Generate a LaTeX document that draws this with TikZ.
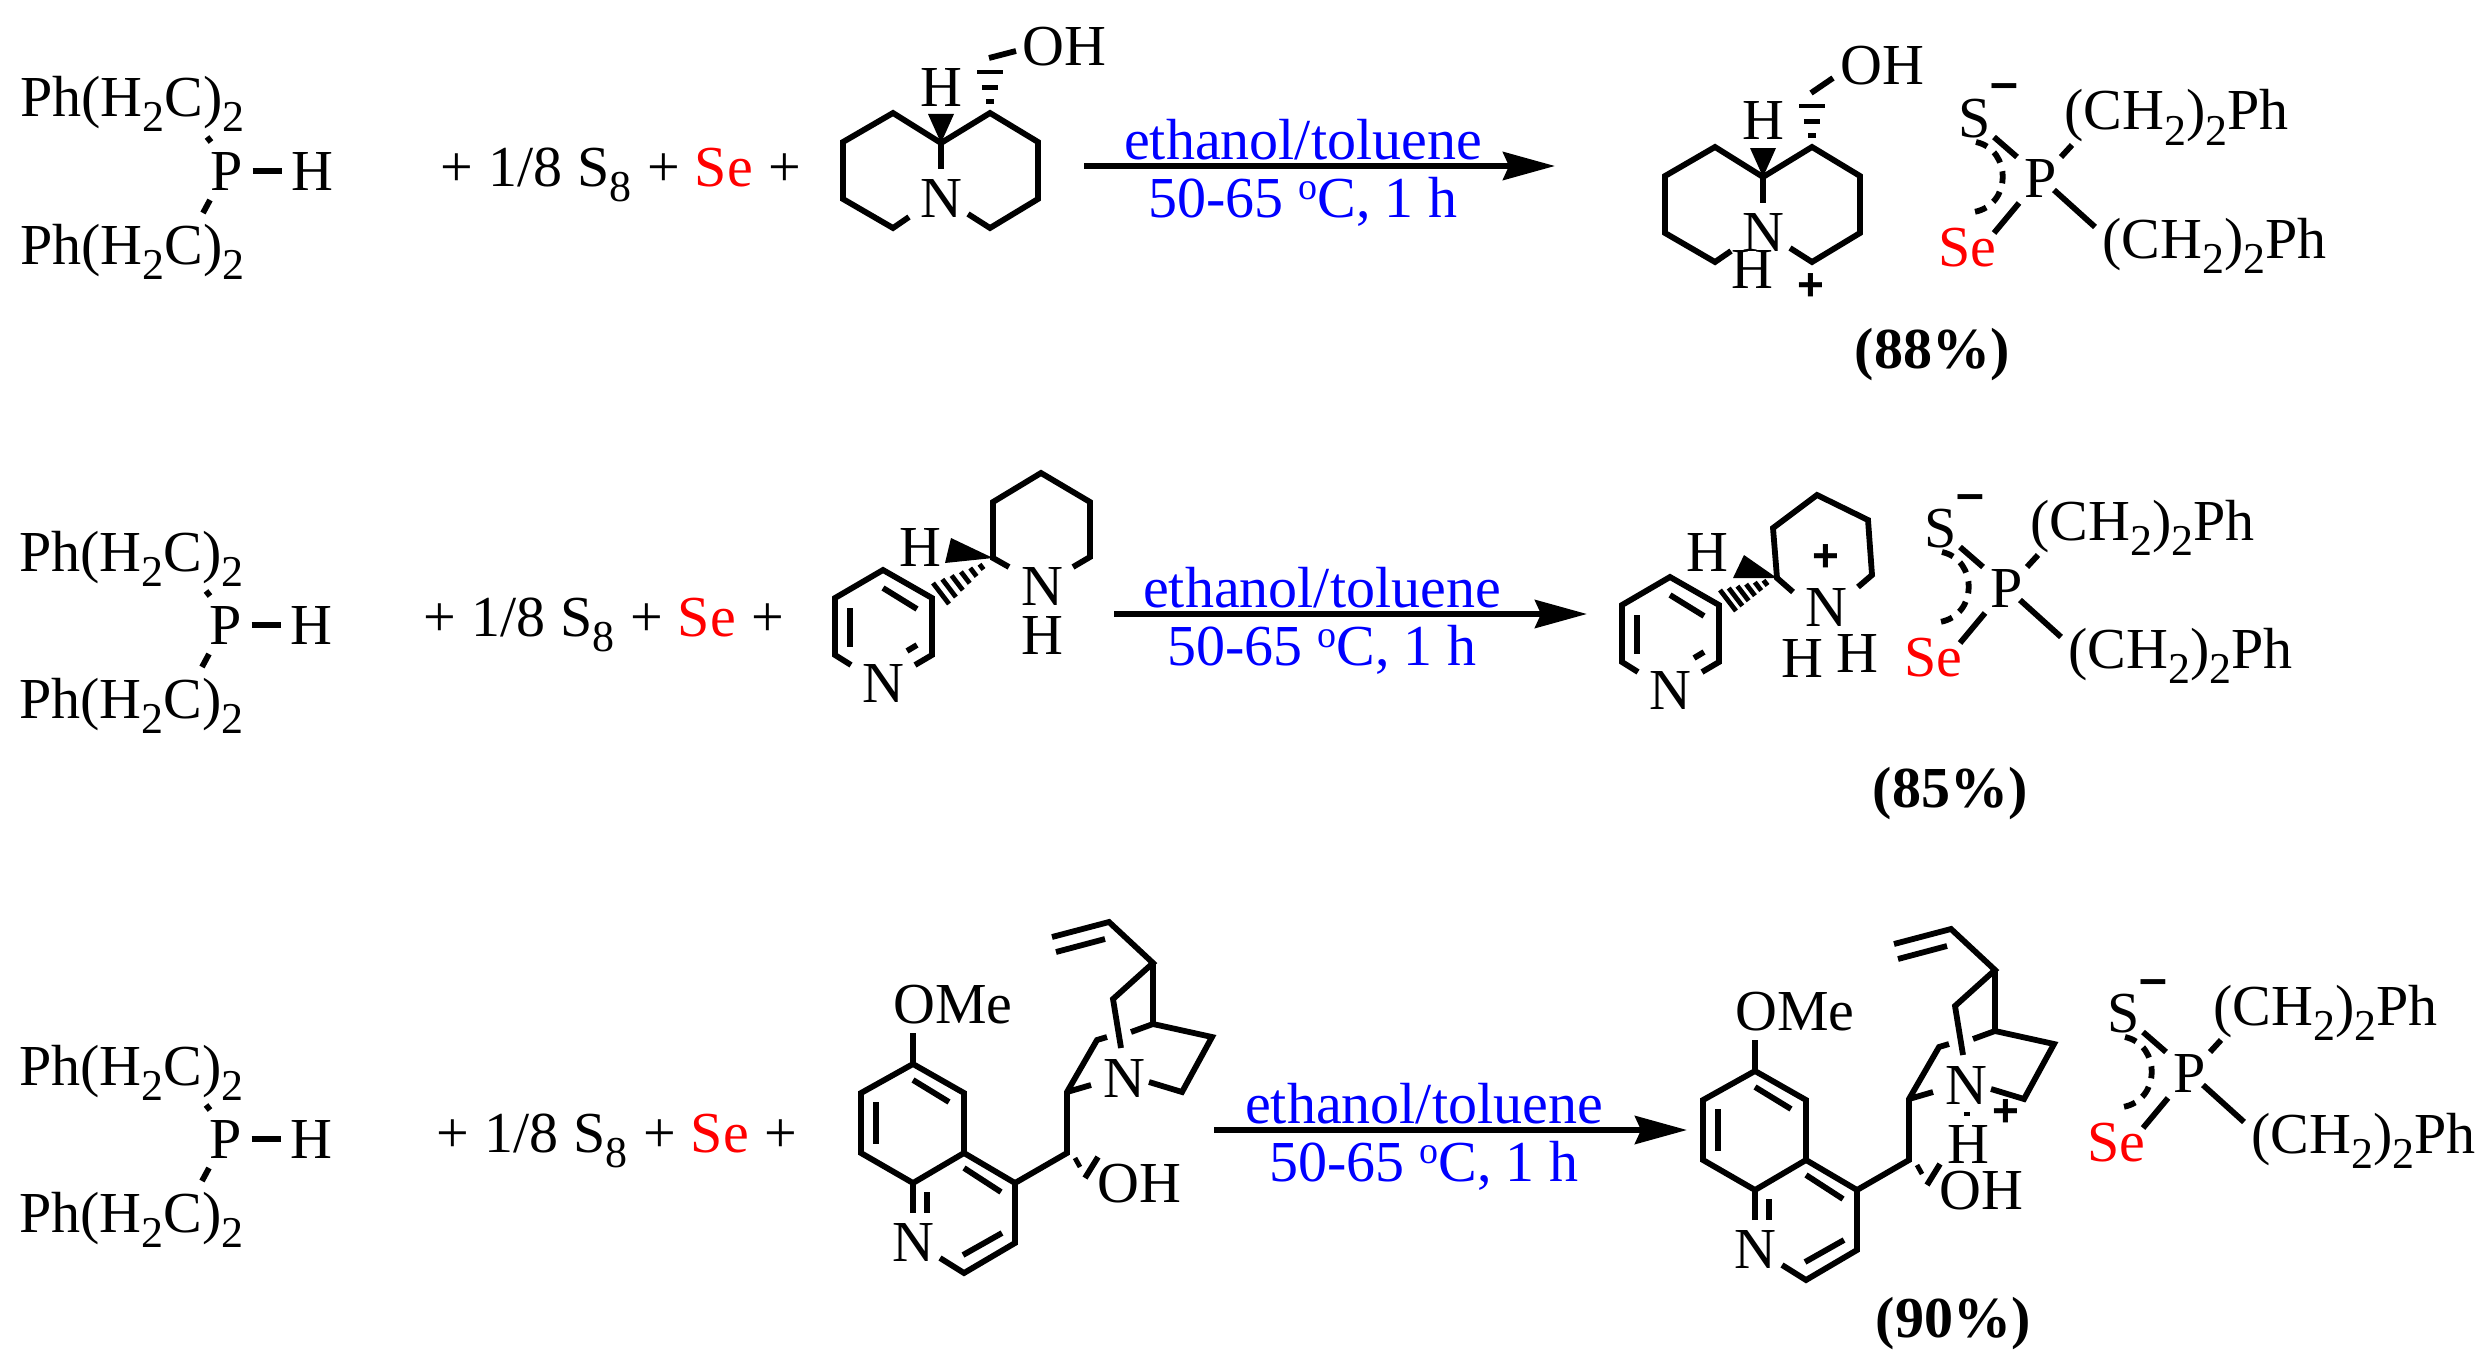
\documentclass[tikz,border=0pt]{standalone}
\usepackage{fontspec}
\setmainfont{Liberation Serif}
\newfontfamily\chargefont{Liberation Sans}
\usetikzlibrary{calc,arrows.meta}
\newcommand{\subs}[1]{\raisebox{-7.5pt}{\fontsize{22}{22}\selectfont #1}}
\newcommand{\degsign}{\raisebox{9pt}{\fontsize{19}{19}\selectfont o}}
\begin{document}
\begin{tikzpicture}[
            x=0.5pt, y=-0.5pt,
            >={Stealth[length=26pt,width=14pt,inset=3pt]},
            font=\fontsize{29}{33}\selectfont,
            bond/.style={line width=2.9pt},
            hashbar/.style={line width=2.4pt},
            atom/.style={inner sep=0pt, anchor=base},
            chain/.style={inner sep=0pt, anchor=base west},
            charge/.style={inner sep=0pt, font=\fontsize{23}{23}\selectfont\chargefont\bfseries},
            cond/.style={inner sep=0pt, anchor=base, text=blue},
            yield/.style={inner sep=0pt, anchor=base, font=\fontsize{29}{33}\selectfont\bfseries}
        ]
		\useasboundingbox (0,0) rectangle (2488,1370);
		\def\reagents{{\spaceskip=7.6pt + 1/8 S\subs{8} + \textcolor{red}{Se} +}}
		\def\solvent{ethanol/toluene}
		\def\temp{50-65 \degsign C, 1 h}

		%Phosphine
		\foreach \pre/\dx/\dy in {ra/0/0,rb/-1/454,rc/-1/968} {
			\begin{scope}[shift={(\dx,\dy)}, name prefix=\pre-]
				\node[chain] (pha) at (20,117) {Ph(H\subs{2}C)\subs{2}};
				\node[chain] (phb) at (20,264) {Ph(H\subs{2}C)\subs{2}};
				\node[atom] (P) at (227,190) {P};
				\node[atom] (H) at (312,190) {H};
				\coordinate (da) at (207,137);
				\coordinate (db) at (211,142);
				\coordinate (dc) at (210,200);
				\coordinate (dd) at (203,213);
				\draw[bond, shorten <=4.5pt, shorten >=4.5pt] (P) -- (H);
				\draw[bond] (da) -- (db);
				\draw[bond] (dc) -- (dd);
			\end{scope}
		}

		%Reagents
		\node[chain] (rga) at (440,186) {\reagents};
		\node[chain] (rgb) at (423,636) {\reagents};
		\node[chain] (rgc) at (436,1152) {\reagents};

		%Arrows
		\foreach \pre/\xa/\xb/\xc/\yy in {aa/1084/1555/1303/166,ab/1114/1587/1322/614,ac/1214/1687/1424/1130} {
			\begin{scope}[name prefix=\pre-]
				\coordinate (s) at (\xa,\yy);
				\coordinate (e) at (\xb,\yy);
				\draw[bond, ->] (s) -- (e);
				\node[cond] (up) at (\xc,\yy-7) {\solvent};
				\node[cond] (dn) at (\xc,\yy+51) {\temp};
			\end{scope}
		}

		%Quinolizidine
		\foreach \pre/\dx/\dy in {qa/0/0,qb/822/34} {
			\begin{scope}[shift={(\dx,\dy)}, name prefix=\pre-]
				\foreach \n/\p in {c1/{909,217},c2/{893,228},c3/{843,199},c4/{843,142},c5/{893,113},c6/{941,143},c7/{990,113},c8/{1038,142},c9/{1038,199},c10/{990,228},c11/{968,214},n1/{941,169},ha/{977,72},hb/{1003,72},wa/{928,114},wb/{954,114}}
					\coordinate (\n) at (\p);
				\draw[bond] (c1) -- (c2) -- (c3) -- (c4) -- (c5) -- (c6) -- (c7) -- (c8) -- (c9) -- (c10) -- (c11);
				\draw[bond] (c6) -- (n1);
				\fill (c6) -- (wa) -- (wb) -- cycle;
				\foreach \t in {0.29,0.63,1}
					\draw[hashbar] ($(c7)!\t!(ha)$) -- ($(c7)!\t!(hb)$);
				\node[atom] (N) at (941,217) {N};
				\node[atom] (H) at (941,106) {H};
			\end{scope}
		}
		\coordinate (ola) at (989,58);
		\coordinate (olb) at (1016,51);
		\draw[bond] (ola) -- (olb);
		\node[chain] (ohq) at (1022,66) {OH};
		\coordinate (olc) at (1811,93);
		\coordinate (old) at (1833,78);
		\draw[bond] (olc) -- (old);
		\node[chain] (ohp) at (1840,85) {OH};
		\node[atom] (hq) at (1752,288) {H};
		\node[charge] (pq) at (1811,287) {+};

		%Anabasine
		\foreach \pre/\dx/\dy/\ax/\ay in {na/0/0/995/558,nb/787/7/991/570} {
			\begin{scope}[shift={(\dx,\dy)}, name prefix=\pre-]
				\foreach \n/\p in {p1/{915,665},p2/{932,655},p3/{932,598},p4/{883,570},p5/{835,598},p6/{835,655},p7/{851,665},ia/{883,588},ib/{917,609},ic/{850,608},id/{850,647},ie/{907,651},if/{917,645},ba/{933,583},bb/{949,604}}
					\coordinate (\n) at (\p);
				\coordinate (apx) at (\ax,\ay);
				\draw[bond] (p1) -- (p2) -- (p3) -- (p4) -- (p5) -- (p6) -- (p7);
				\draw[bond] (ia) -- (ib);
				\draw[bond] (ic) -- (id);
				\draw[bond] (ie) -- (if);
				\foreach \t in {0.25,0.4,0.55,0.7,0.85,1}
					\draw[hashbar] ($(apx)!\t!(ba)$) -- ($(apx)!\t!(bb)$);
				\node[atom] (N) at (883,702) {N};
			\end{scope}
		}
		\foreach \n/\p in {u1/{1009,567},u2/{993,558},u3/{993,502},u4/{1041,473},u5/{1090,502},u6/{1090,557},u7/{1073,567},ua/{951,538},ub/{945,563}}
			\coordinate (\n) at (\p);
		\draw[bond] (u1) -- (u2) -- (u3) -- (u4) -- (u5) -- (u6) -- (u7);
		\fill (u2) -- (ua) -- (ub) -- cycle;
		\node[atom] (nu) at (1042,605) {N};
		\node[atom] (hu) at (1042,654) {H};
		\node[atom] (hw) at (920,566) {H};
		\foreach \n/\p in {v1/{1793,592},v2/{1777,578},v3/{1773,528},v4/{1817,495},v5/{1868,520},v6/{1872,575},v7/{1858,587},va/{1744,555},vb/{1733,578}}
			\coordinate (\n) at (\p);
		\draw[bond] (v1) -- (v2) -- (v3) -- (v4) -- (v5) -- (v6) -- (v7);
		\fill (v2) -- (va) -- (vb) -- cycle;
		\node[atom] (nv) at (1826,626) {N};
		\node[atom] (hv) at (1802,677) {H};
		\node[atom] (hx) at (1857,672) {H};
		\node[atom] (hy) at (1707,571) {H};
		\node[charge] (pv) at (1826,558) {+};

		%Quinine
		\foreach \pre/\dx/\dy in {ka/0/0,kb/842/7} {
			\begin{scope}[shift={(\dx,\dy)}, name prefix=\pre-]
				\foreach \n/\p in {b1/{913,1064},b2/{964,1093},b3/{964,1153},b4/{913,1183},b5/{861,1153},b6/{861,1093},b7/{1015,1183},b8/{1015,1243},b9/{964,1273},b10/{940,1258},b11/{913,1213},b12/{927,1192},b13/{927,1213},m1/{913,1033},e1/{913,1080},e2/{949,1102},e3/{876,1102},e4/{876,1144},e5/{964,1168},e6/{1001,1192},e7/{963,1255},e8/{1002,1233},f1/{1067,1153},f2/{1067,1092},f3/{1097,1040},f4/{1107,1037},f5/{1091,1085},g1/{1075,1158},g2/{1080,1167},g3/{1098,1157},g4/{1085,1178},t1/{1153,963},t2/{1109,922},t3/{1052,937},t4/{1056,952},t5/{1105,939},t6/{1113,999},t7/{1121,1048},t8/{1153,1024},t9/{1131,1032},t10/{1212,1037},t11/{1182,1092},t12/{1149,1082}}
					\coordinate (\n) at (\p);
				\draw[bond] (b1) -- (b2) -- (b3) -- (b4) -- (b5) -- (b6) -- cycle;
				\draw[bond] (b11) -- (b4);
				\draw[bond] (b3) -- (b7) -- (b8) -- (b9) -- (b10);
				\draw[bond] (b12) -- (b13);
				\draw[bond] (m1) -- (b1);
				\draw[bond] (e1) -- (e2);
				\draw[bond] (e3) -- (e4);
				\draw[bond] (e5) -- (e6);
				\draw[bond] (e7) -- (e8);
				\draw[bond] (b7) -- (f1) -- (f2) -- (f3) -- (f4);
				\draw[bond] (f2) -- (f5);
				\draw[hashbar] (g1) -- (g2);
				\draw[bond] (g3) -- (g4);
				\draw[bond] (t3) -- (t2) -- (t1) -- (t6) -- (t7);
				\draw[bond] (t4) -- (t5);
				\draw[bond] (t1) -- (t8) -- (t9);
				\draw[bond] (t8) -- (t10) -- (t11) -- (t12);
				\node[chain] (ome) at (893,1023) {OMe};
				\node[atom] (Nq) at (913,1261) {N};
				\node[atom] (N) at (1124,1097) {N};
				\node[chain] (oh) at (1097,1202) {OH};
			\end{scope}
		}
		\coordinate (nha) at (1964,1114);
		\coordinate (nhb) at (1970,1114);
		\draw[line width=2pt] (nha) -- (nhb);
		\node[atom] (hk) at (1968,1163) {H};
		\node[charge] (pk) at (2006,1113) {+};

		%Anions
		\foreach \pre/\dx/\dy in {sa/0/0,sb/-34/410,sc/149/895} {
			\begin{scope}[shift={(\dx,\dy)}, name prefix=\pre-]
				\foreach \n/\p in {a1/{1994,137},a2/{2017,157},a3/{2019,203},a4/{1994,233},a5/{2072,145},a6/{2061,157},a7/{2054,190},a8/{2095,227},da/{1976,142},db/{1974,212},ca/{2012,150},cb/{2012,205}}
					\coordinate (\n) at (\p);
				\draw[bond] (a1) -- (a2);
				\draw[bond] (a3) -- (a4);
				\draw[bond] (a5) -- (a6);
				\draw[bond] (a7) -- (a8);
				\draw[bond, dash pattern=on 6pt off 4.5pt] (da) .. controls (ca) and (cb) .. (db);
				\node[atom] (S) at (1975,137) {S};
				\node[atom] (P) at (2041,197) {P};
				\node[chain, text=red] (Se) at (1938,266) {Se};
				\node[chain] (cha) at (2064,130) {(CH\subs{2})\subs{2}Ph};
				\node[chain] (chb) at (2102,258) {(CH\subs{2})\subs{2}Ph};
				\node[chain, font=\fontsize{25}{25}\selectfont\chargefont\bfseries] (mn) at (1990,100) {\textendash};
			\end{scope}
		}

		%Yields
		\node[yield] (ya) at (1932,368) {(88\%)};
		\node[yield] (yb) at (1950,807) {(85\%)};
		\node[yield] (yc) at (1953,1337) {(90\%)};
    \end{tikzpicture}
\end{document}
